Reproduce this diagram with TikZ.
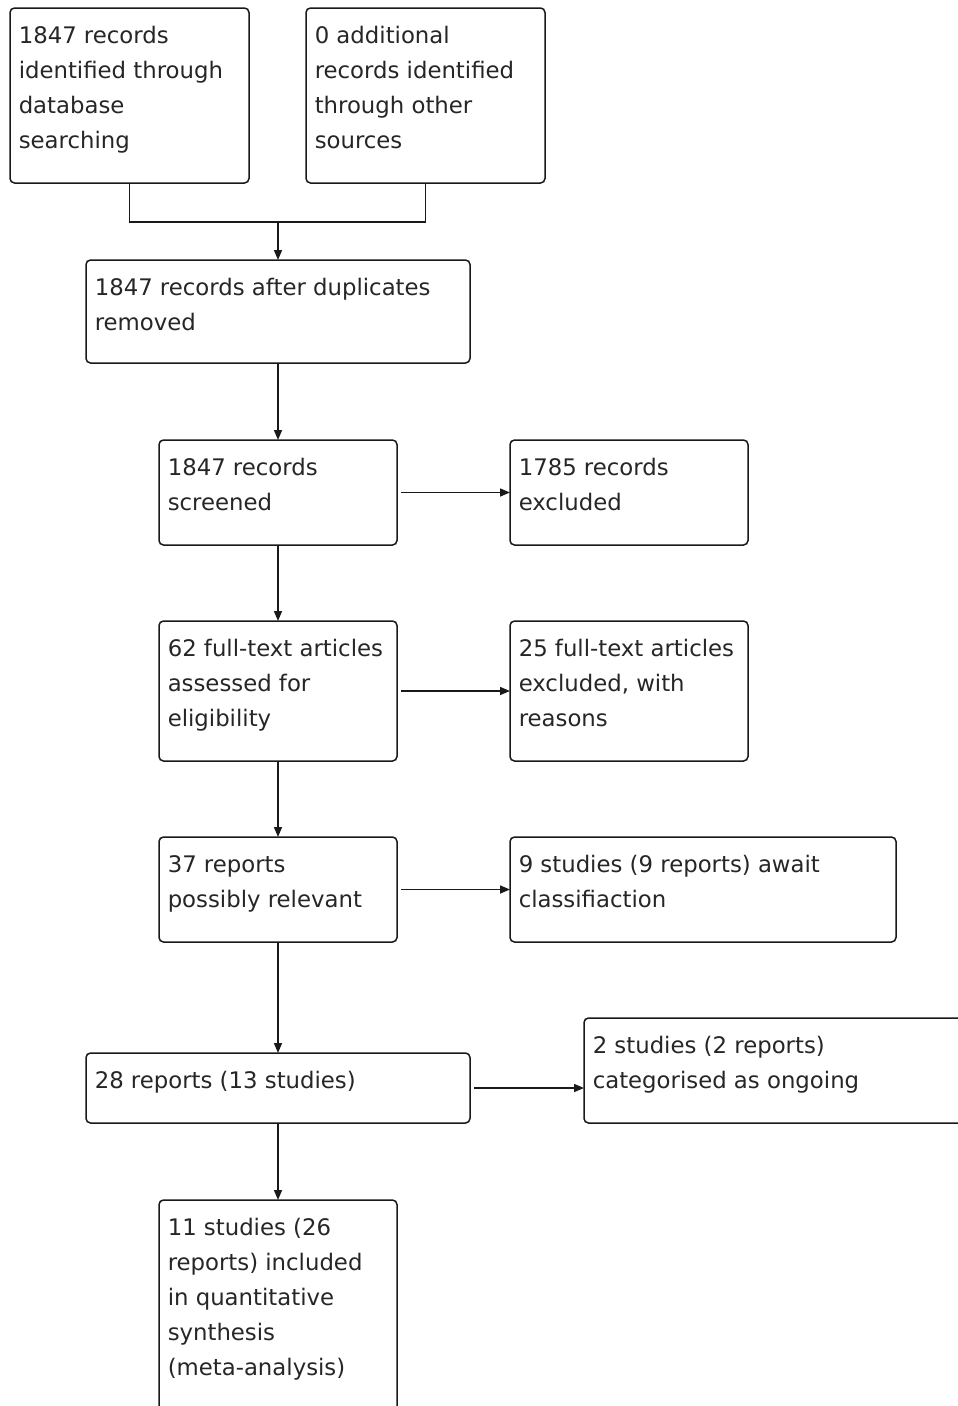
\documentclass[tikz,border=0pt]{standalone}
\usepackage{fontspec}
\setmainfont{DejaVu Sans}
\usetikzlibrary{arrows.meta}

\tikzset{every picture/.style={line width=1.5pt}}
\tikzset{
  flowbox/.style={draw=black!90, rounded corners=4.5pt, inner sep=0pt, outer sep=0pt, anchor=north west},
  flowtext/.style={inner sep=0pt, anchor=north west, align=left, text=black!85,
    font=\fontsize{22.8}{35}\selectfont},
  flowarrow/.style={draw=black!90, -{Triangle[length=10pt,width=8pt]}}
}

\begin{document}
\begin{tikzpicture}[x=1pt,y=1pt,yscale=-1,xscale=1]
%set diagram to 958 x 1406, boxes on the right and bottom run off the edge
\useasboundingbox (0,0) rectangle (958,1406);
\clip (0,0) rectangle (958,1406);

%Shape: Rectangle [identification]
\node [flowbox, minimum width=239pt, minimum height=175pt] (ident) at (10,8) {};
%Shape: Rectangle [other sources]
\node [flowbox, minimum width=239pt, minimum height=175pt] (other) at (306,8) {};
%Shape: Rectangle [duplicates removed]
\node [flowbox, minimum width=384pt, minimum height=103pt] (dedup) at (86,260) {};
%Shape: Rectangle [screened]
\node [flowbox, minimum width=238pt, minimum height=105pt] (screen) at (159,440) {};
%Shape: Rectangle [excluded]
\node [flowbox, minimum width=238pt, minimum height=105pt] (excl) at (510,440) {};
%Shape: Rectangle [full text]
\node [flowbox, minimum width=238pt, minimum height=140pt] (fulltext) at (159,621) {};
%Shape: Rectangle [full text excluded]
\node [flowbox, minimum width=238pt, minimum height=140pt] (ftexcl) at (510,621) {};
%Shape: Rectangle [possibly relevant]
\node [flowbox, minimum width=238pt, minimum height=105pt] (relev) at (159,837) {};
%Shape: Rectangle [awaiting]
\node [flowbox, minimum width=386pt, minimum height=105pt] (await) at (510,837) {};
%Shape: Rectangle [28 reports]
\node [flowbox, minimum width=384pt, minimum height=70pt] (reports) at (86,1053) {};
%Shape: Rectangle [ongoing]
\node [flowbox, minimum width=386pt, minimum height=105pt] (ongoing) at (584,1018) {};
%Shape: Rectangle [meta-analysis]
\node [flowbox, minimum width=238pt, minimum height=212pt] (meta) at (159,1200) {};

%Straight Lines [merge of the two sources]
\coordinate (join) at (dedup.north |- 0,222);
\draw [draw=black!90] (ident.south) |- (join) -| (other.south);
\draw [flowarrow] (join) -- (dedup.north);
%Straight Lines [main column]
\draw [flowarrow] (dedup.south) -- (screen.north);
\draw [flowarrow] (screen.south) -- (fulltext.north);
\draw [flowarrow] (fulltext.south) -- (relev.north);
\draw [flowarrow] (relev.south) -- (reports.north);
\draw [flowarrow] (reports.south) -- (meta.north);
%Straight Lines [side branches]
\draw [flowarrow, shorten <=4pt] (screen.east) -- (excl.west |- screen.east);
\draw [flowarrow, shorten <=4pt] (fulltext.east) -- (ftexcl.west |- fulltext.east);
\draw [flowarrow, shorten <=4pt] (relev.east) -- (await.west |- relev.east);
\draw [flowarrow, shorten <=4pt] (reports.east) -- (ongoing.west |- reports.east);

% Text Node
\node [flowtext] (identtxt) at (18,25.5) {1847 records\\identified through\\database\\searching};
% Text Node
\node [flowtext] (othertxt) at (314,25.5) {0 additional\\records identified\\through other\\sources};
% Text Node
\node [flowtext] (deduptxt) at (94,277.5) {1847 records after duplicates\\removed};
% Text Node
\node [flowtext] (screentxt) at (167,457.5) {1847 records\\screened};
% Text Node
\node [flowtext] (excltxt) at (518,457.5) {1785 records\\excluded};
% Text Node
\node [flowtext] (fulltexttxt) at (167,638.5) {62 full-text articles\\assessed for\\eligibility};
% Text Node
\node [flowtext] (ftexcltxt) at (518,638.5) {25 full-text articles\\excluded, with\\reasons};
% Text Node
\node [flowtext] (relevtxt) at (167,855) {37 reports\\possibly relevant};
% Text Node
\node [flowtext] (awaittxt) at (518,854.5) {9 studies (9 reports) await\\classifiaction};
% Text Node
\node [flowtext] (reportstxt) at (94,1070.5) {28 reports (13 studies)};
% Text Node
\node [flowtext] (ongoingtxt) at (592,1035.5) {2 studies (2 reports)\\categorised as ongoing};
% Text Node
\node [flowtext] (metatxt) at (167,1217.5) {11 studies (26\\reports) included\\in quantitative\\synthesis\\(meta-analysis)};

\end{tikzpicture}
\end{document}
